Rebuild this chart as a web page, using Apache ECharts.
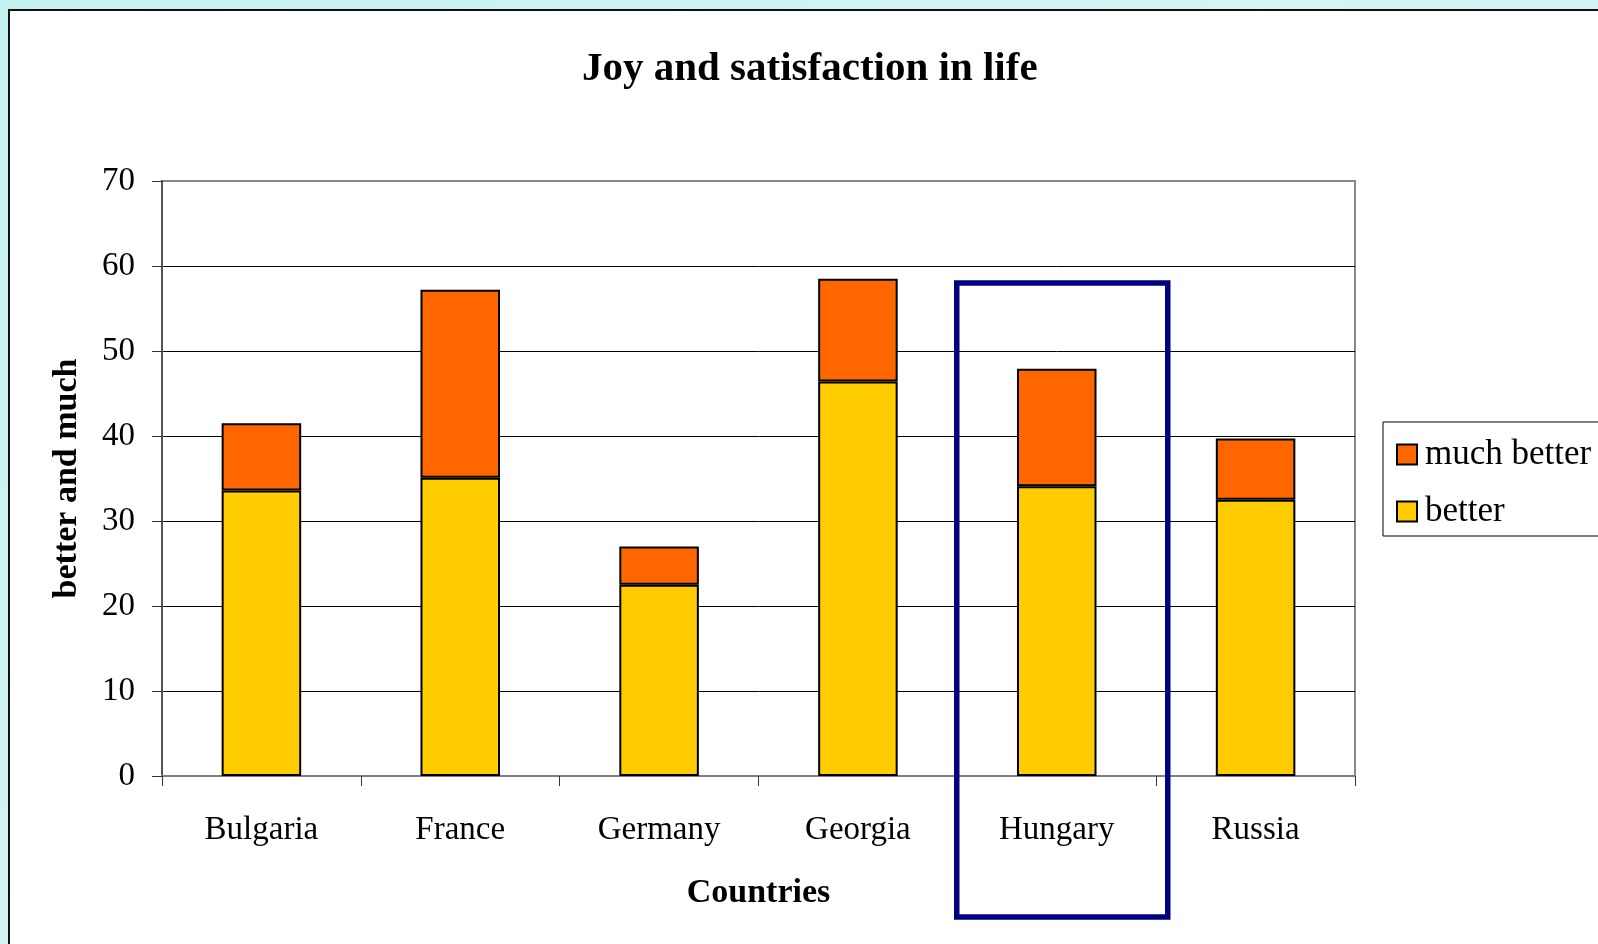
<!DOCTYPE html>
<html>
<head>
<meta charset="utf-8">
<script src="https://cdn.jsdelivr.net/npm/echarts@6/dist/echarts.min.js"></script>
<style>
html, body { margin: 0; padding: 0; width: 1598px; height: 944px; overflow: hidden;
  background: linear-gradient(135deg, #c6f1f1 0%, #d6f5f5 50%, #c9f2f2 100%); }
#frame { position: absolute; left: 8px; top: 9px; width: 1620px; height: 960px;
  background: #fff; border-left: 2px solid #111; border-top: 2px solid #111; }
#main { position: absolute; left: 0; top: 0; width: 1598px; height: 944px; }
</style>
</head>
<body>
<div id="frame"></div>
<div id="main"></div>
<script>
var countries = ['Bulgaria', 'France', 'Germany', 'Georgia', 'Hungary', 'Russia'];
var better = [33.6, 35.1, 22.5, 46.4, 34.1, 32.5];
var muchBetter = [7.9, 22.1, 4.5, 12.1, 13.8, 7.2];
var yTicks = [0, 10, 20, 30, 40, 50, 60, 70];

var serif = "'Liberation Serif', 'Times New Roman', serif";
var chartDom = document.getElementById('main');
var myChart = echarts.init(chartDom, null, { renderer: 'canvas' });

// split line colours, top one hidden so the grey plot border shows
var splitColors = yTicks.map(function (t, i) { return i == yTicks.length - 1 ? 'transparent' : '#000'; });

var option = {
  backgroundColor: 'transparent',
  animation: false,
  title: {
    text: 'Joy and satisfaction in life',
    left: 582,
    top: 49,
    padding: 0,
    textStyle: { fontFamily: serif, fontSize: 41, fontWeight: 'bold', color: '#000' }
  },
  legend: {
    data: ['much better', 'better'],
    orient: 'vertical',
    left: 1383,
    top: 422,
    padding: [15, 20, 7, 13],
    itemGap: 22,
    itemWidth: 20,
    itemHeight: 20,
    icon: 'rect',
    borderColor: '#000',
    borderWidth: 1,
    backgroundColor: '#fff',
    textStyle: { fontFamily: serif, fontSize: 35, color: '#000', padding: [0, 0, 0, 3] }
  },
  grid: {
    left: 162, right: 243, top: 181, bottom: 168,
    show: true, borderColor: '#888', borderWidth: 2, backgroundColor: 'transparent'
  },
  xAxis: {
    type: 'category',
    data: countries,
    name: 'Countries',
    nameLocation: 'middle',
    nameGap: 100,
    nameTextStyle: { fontFamily: serif, fontSize: 34, fontWeight: 'bold', color: '#000' },
    axisLine: { lineStyle: { color: '#808080', width: 2 } },
    axisTick: { show: true, length: 10, alignWithLabel: false, lineStyle: { color: '#333', width: 1 } },
    axisLabel: { fontFamily: serif, fontSize: 33, color: '#000', margin: 38 },
    splitLine: { show: false }
  },
  yAxis: {
    type: 'value',
    min: 0,
    max: 70,
    interval: 10,
    name: 'better and much',
    nameLocation: 'middle',
    nameGap: 78,
    nameTextStyle: { fontFamily: serif, fontSize: 34, fontWeight: 'bold', color: '#000' },
    axisLine: { show: true, lineStyle: { color: '#555', width: 2 } },
    axisTick: { show: true, length: 10, lineStyle: { color: '#333', width: 1 } },
    axisLabel: { fontFamily: serif, fontSize: 33, color: '#000', margin: 27 },
    splitLine: { show: true, lineStyle: { color: splitColors, width: 1 } }
  },
  series: [
    {
      name: 'better',
      type: 'bar',
      stack: 'total',
      barWidth: '40%',
      data: better,
      itemStyle: { color: '#FFCC00', borderColor: '#000', borderWidth: 2 }
    },
    {
      name: 'much better',
      type: 'bar',
      stack: 'total',
      barWidth: '40%',
      data: muchBetter,
      itemStyle: { color: '#FF6600', borderColor: '#000', borderWidth: 2 }
    }
  ]
};

option && myChart.setOption(option);

// blue highlight box round Hungary
var cx = myChart.convertToPixel({ xAxisIndex: 0 }, 'Hungary');
var topY = myChart.convertToPixel({ yAxisIndex: 0 }, 58);
myChart.setOption({
  graphic: [{
    type: 'rect',
    z: 100,
    shape: { x: cx - 100, y: topY, width: 211, height: 917 - topY },
    style: { fill: 'none', stroke: '#000080', lineWidth: 5.5 }
  }]
});
</script>
</body>
</html>
